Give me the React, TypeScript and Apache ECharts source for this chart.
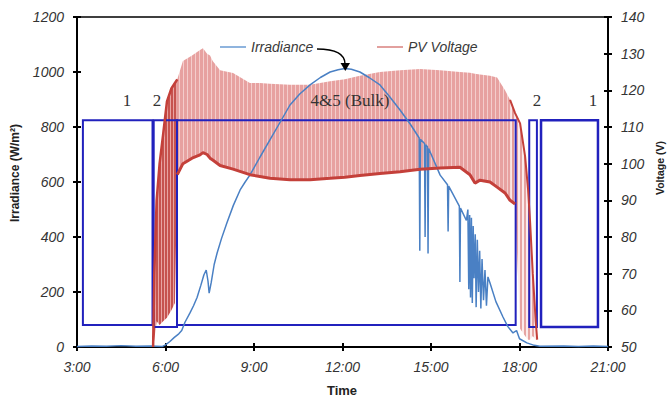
import React, { useEffect, useRef } from "react";
import * as echarts from "echarts";

// ---- Irradiance (W/m²) vs time (hours) ----
const irrHours = [
  3.0, 3.5, 4.0, 4.5, 5.0, 5.5, 5.9, 6.0, 6.15, 6.3, 6.45, 6.55, 6.66, 6.83, 6.95, 7.07, 7.2, 7.3, 7.38, 7.44,
  7.48, 7.55, 7.65, 7.75, 7.9, 8.08, 8.3, 8.53, 8.7, 8.86, 9.2, 9.54, 9.9, 10.22, 10.55, 10.9, 11.25, 11.58,
  11.85, 12.08, 12.3, 12.59, 12.9, 13.27, 13.6, 13.95, 14.3, 14.6, 14.62, 14.64, 14.78, 14.8, 14.82, 14.88,
  14.9, 14.92, 15.31, 15.56, 15.58, 15.6, 15.96, 15.98, 16.0, 16.2, 16.25, 16.28, 16.31, 16.34, 16.37, 16.4,
  16.43, 16.46, 16.5, 16.53, 16.57, 16.61, 16.65, 16.69, 16.73, 16.78, 16.83, 16.88, 16.93, 17.0, 17.2, 17.44,
  17.6, 17.78, 17.9, 18.0, 18.25, 18.5, 18.69, 19.5, 20.0, 20.5, 21.0,
];
const irrValues = [
  2, 4, 3, 5, 3, 4, 2, 8, 20, 35, 48, 60, 90, 124, 150, 180, 225, 262, 280, 240,
  196, 235, 300, 342, 395, 451, 515, 571, 600, 625, 690, 753, 820, 880, 920, 953, 980, 1000,
  1008, 1013, 1010, 1000, 980, 953, 910, 862, 810, 760, 350, 755, 740, 400, 735, 728,
  340, 722, 625, 590, 420, 585, 512, 236, 505, 460, 500, 210, 480, 180, 470, 160,
  440, 250, 410, 145, 390, 200, 350, 140, 320, 170, 280, 150, 255, 233, 165, 109,
  75, 51, 60, 30, 15, 6, 3, 4, 2, 4, 2,
];

// ---- PV Voltage (V): main oscillation band ----
const bandHours = [
  6.4, 6.59, 6.9, 7.17, 7.27, 7.41, 7.51, 7.6, 7.85, 8.29, 8.86, 9.2, 9.54, 10.22, 10.9, 11.58, 12.08,
  12.59, 13.27, 13.95, 14.63, 15.31, 15.98, 16.32, 16.49, 16.66, 17.0, 17.24, 17.51, 17.68, 17.85,
];
const bandLow = [
  97, 100, 101.5, 102.4, 103, 102.5, 101.5, 101, 99.5, 98.5, 97, 96.5, 96, 95.6, 95.6, 96, 96.3,
  96.8, 97.3, 97.8, 98.5, 98.8, 99, 97, 94.7, 95.5, 95, 93.6, 92, 90, 89,
];
const bandHigh = [
  123, 128, 129.5, 131, 131.5, 130, 129.5, 128, 125.5, 124.7, 122, 122, 121.8, 121.5, 121.5, 122.5, 123,
  124, 125, 125.5, 125.8, 125.5, 125, 124.8, 124.5, 124.3, 124, 123.5, 120, 117.4, 113.8,
];

// ---- PV Voltage: start-up region ----
const earlyHours = [5.58, 5.62, 5.7, 5.8, 5.92, 6.05, 6.2, 6.32, 6.4];
const earlyLow = [50, 52, 57, 56, 57, 58, 60, 62, 97];
const earlyHigh = [50, 70, 90, 100, 108, 117, 120.5, 122, 123];

// ---- PV Voltage: shut-down region ----
const endHours = [17.68, 17.85, 18.02, 18.19, 18.29, 18.36, 18.45, 18.55, 18.6];
const endLow = [90, 89, 55, 53, 52, 52, 53, 52, 52];
const endHigh = [117.4, 113.8, 111, 102, 93, 84, 70, 57, 52];

// ---- Charging-stage boxes (hours, W/m²) ----
const rectX0 = [3.2, 5.6, 6.39, 18.33, 18.73];
const rectX1 = [5.56, 6.39, 17.87, 18.59, 20.66];
const rectBottom = [80, 73, 80, 73, 73];
const rectTop = [825, 825, 825, 825, 825];

// ---- Stage labels ----
const stageLabels = ["1", "2", "4&5 (Bulk)", "2", "1"];
const stageLabelX = [127, 157, 350, 537, 593];

const xTicks = { min: 3, max: 21, interval: 3 };
const irrTicks = { min: 0, max: 1200, interval: 200 };
const voltTicks = { min: 50, max: 140, interval: 10 };

function stripes(a: string, b: string, wa: number, wb: number) {
  const c = document.createElement("canvas");
  c.width = wa + wb;
  c.height = 2;
  const ctx = c.getContext("2d")!;
  ctx.fillStyle = a;
  ctx.fillRect(0, 0, wa, 2);
  ctx.fillStyle = b;
  ctx.fillRect(wa, 0, wb, 2);
  return { image: c.toDataURL(), repeat: "repeat", imageWidth: wa + wb, imageHeight: 2 };
}

function bandSeries(name: string, hours: number[], low: number[], high: number[], fill: any, opacity: number) {
  return {
    name,
    type: "custom",
    xAxisIndex: 0,
    yAxisIndex: 1,
    data: [[hours[0], low[0]]],
    renderItem: (_params: any, api: any) => {
      const pts: number[][] = [];
      for (let i = 0; i < hours.length; i++) pts.push(api.coord([hours[i], high[i]]));
      for (let i = hours.length - 1; i >= 0; i--) pts.push(api.coord([hours[i], low[i]]));
      return { type: "polygon", shape: { points: pts }, style: { fill, opacity, stroke: null } };
    },
  };
}

export default function App() {
  const ref = useRef<HTMLDivElement>(null);
  useEffect(() => {
    if (!ref.current) return;
    document.body.style.margin = "0";
    const chart = echarts.init(ref.current, null, { renderer: "svg" });
    const tickFont = { color: "#333", fontSize: 14, fontStyle: "italic", fontFamily: "Liberation Sans" };
    const axisLine = { show: true, onZero: false, lineStyle: { color: "#000", width: 2 } };
    const tickOut = { show: true, length: 4, lineStyle: { color: "#000", width: 2 } };
    const tickIn = { show: true, inside: true, length: 4, lineStyle: { color: "#000", width: 2 } };
    const fmtHour = (v: number) => `${v}:00`;
    const fmtNum = (v: number) => String(v);

    const pink = stripes("#e3918f", "#f2c4c3", 3, 1);
    const dark = stripes("#c0403c", "#e59a98", 2, 1);
    const endPink = stripes("#e39a98", "#fbe9e9", 2, 2);
    const red = "#c4403a";

    const option: any = {
      animation: false,
      grid: { left: 77, right: 60, top: 17, bottom: 50, show: true, borderColor: "#000", borderWidth: 1.5 },
      legend: [
        {
          data: [{ name: "Irradiance", icon: "rect", itemStyle: { color: "#8fb4de" } }],
          left: 215,
          top: 35,
          itemWidth: 26,
          itemHeight: 2,
          textStyle: { ...tickFont, color: "#3a3a3a" },
        },
        {
          data: [{ name: "PV Voltage", icon: "rect", itemStyle: { color: "#e2a09e" } }],
          left: 372,
          top: 35,
          itemWidth: 26,
          itemHeight: 2,
          textStyle: { ...tickFont, color: "#3a3a3a" },
        },
      ],
      xAxis: [
        {
          type: "value", ...xTicks, position: "bottom", axisLine, axisTick: tickOut,
          axisLabel: { ...tickFont, formatter: fmtHour, margin: 13 }, splitLine: { show: false },
        },
        {
          type: "value", ...xTicks, position: "bottom", axisLine: { show: false }, axisTick: tickIn,
          axisLabel: { show: false }, splitLine: { show: false },
        },
      ],
      yAxis: [
        {
          type: "value", ...irrTicks, position: "left", axisLine, axisTick: tickOut,
          axisLabel: { ...tickFont, formatter: fmtNum, margin: 13 }, splitLine: { show: false },
        },
        {
          type: "value", ...voltTicks, position: "right", axisLine, axisTick: tickOut,
          axisLabel: { ...tickFont, formatter: fmtNum, margin: 13 }, splitLine: { show: false },
        },
        {
          type: "value", ...irrTicks, position: "left", axisLine: { show: false }, axisTick: tickIn,
          axisLabel: { show: false }, splitLine: { show: false },
        },
        {
          type: "value", ...voltTicks, position: "right", axisLine: { show: false }, axisTick: tickIn,
          axisLabel: { show: false }, splitLine: { show: false },
        },
      ],
      series: [
        {
          name: "Irradiance",
          type: "line",
          xAxisIndex: 0,
          yAxisIndex: 0,
          showSymbol: false,
          data: irrHours.map((h, i) => [h, irrValues[i]]),
          lineStyle: { color: "#4a80c4", width: 1.5 },
          itemStyle: { color: "#8fb4de" },
        },
        bandSeries("PV Voltage", bandHours, bandLow, bandHigh, pink, 0.85),
        bandSeries("early", earlyHours, earlyLow, earlyHigh, dark, 0.9),
        bandSeries("end", endHours, endLow, endHigh, endPink, 0.9),
        {
          name: "lowEnv", type: "line", xAxisIndex: 0, yAxisIndex: 1, showSymbol: false,
          data: bandHours.map((h, i) => [h, bandLow[i]]),
          lineStyle: { color: red, width: 3 },
        },
        {
          name: "rise", type: "line", xAxisIndex: 0, yAxisIndex: 1, showSymbol: false,
          data: earlyHours.map((h, i) => [h, earlyHigh[i]]),
          lineStyle: { color: red, width: 2.5 },
        },
        {
          name: "fall", type: "line", xAxisIndex: 0, yAxisIndex: 1, showSymbol: false,
          data: endHours.map((h, i) => [h, endHigh[i]]),
          lineStyle: { color: red, width: 2 },
        },
        {
          name: "stages",
          type: "custom",
          xAxisIndex: 0,
          yAxisIndex: 0,
          data: rectX0.map((x, i) => [x, rectX1[i], rectBottom[i], rectTop[i]]),
          renderItem: (params: any, api: any) => {
            const p0 = api.coord([api.value(0), api.value(3)]);
            const p1 = api.coord([api.value(1), api.value(2)]);
            return {
              type: "rect",
              shape: { x: p0[0], y: p0[1], width: p1[0] - p0[0], height: p1[1] - p0[1] },
              style: { fill: null, stroke: "#2121bd", lineWidth: params.dataIndex === 4 ? 2.5 : 2 },
            };
          },
        },
      ],
      graphic: [
        ...stageLabels.map((t, i) => ({
          type: "text",
          x: stageLabelX[i],
          y: 100,
          z: 100,
          style: { text: t, font: '17px "Liberation Serif"', fill: "#333", align: "center", verticalAlign: "middle" },
        })),
        {
          type: "text", x: 15, y: 173, rotation: Math.PI / 2, z: 100,
          style: { text: "Irradiance (W/m²)", font: 'bold 12px "Liberation Sans"', fill: "#222", align: "center", verticalAlign: "middle" },
        },
        {
          type: "text", x: 660, y: 168, rotation: Math.PI / 2, z: 100,
          style: { text: "Voltage (V)", font: 'bold 10.5px "Liberation Sans"', fill: "#222", align: "center", verticalAlign: "middle" },
        },
        {
          type: "text", x: 342, y: 390, z: 100,
          style: { text: "Time", font: 'bold 13px "Liberation Sans"', fill: "#222", align: "center", verticalAlign: "middle" },
        },
        {
          type: "bezierCurve", z: 100,
          shape: { x1: 317, y1: 49, x2: 345, y2: 64, cpx1: 345, cpy1: 49 },
          style: { stroke: "#000", lineWidth: 1.5, fill: null },
        },
        {
          type: "polygon", z: 100,
          shape: { points: [[340.5, 63], [350, 63], [345.3, 71]] },
          style: { fill: "#000" },
        },
      ],
    };
    chart.setOption(option);
    return () => chart.dispose();
  }, []);
  return <div ref={ref} style={{ width: 668, height: 397 }} />;
}
